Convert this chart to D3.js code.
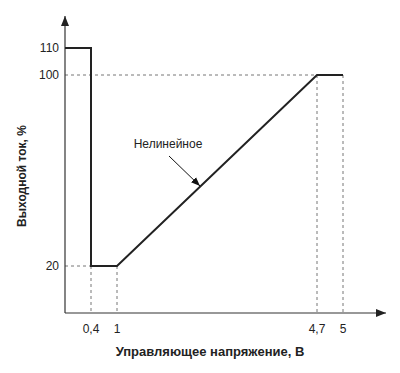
<!DOCTYPE html>
<html>
<head>
<meta charset="utf-8">
<script src="https://cdn.jsdelivr.net/npm/d3@7"></script>
<style>
  body { margin: 0; background: #fff; }
  text { font-family: "Liberation Sans", Arial, sans-serif; fill: #222; }
</style>
</head>
<body>
<svg id="chart" width="400" height="373"></svg>
<script>
// curve points (control voltage, output current)
var voltage = [0, 0.4, 0.4, 1, 4.7, 5];
var current = [110, 110, 20, 20, 100, 100];

var xTicks = [0.4, 1, 4.7, 5];
var xTickLabels = ["0,4", "1", "4,7", "5"];
var yTicks = [20, 100, 110];
var yTickLabels = ["20", "100", "110"];

// dashed guides: [x1, y1, x2, y2] in data units
var guides = [
    [0, 100, 4.7, 100],
    [0, 20, 0.4, 20],
    [0.4, 20, 0.4, 0],
    [1, 20, 1, 0],
    [4.7, 100, 4.7, 0],
    [5, 100, 5, 0]
];

var svg = d3.select("#chart");

// schematic axes, not to scale -> piecewise scales
var x = d3.scaleLinear().domain([0, 0.4, 1, 4.7, 5]).range([65, 91, 117, 317, 343]);
var y = d3.scaleLinear().domain([0, 20, 100, 110]).range([313, 266, 75, 48]);

var defs = svg.append("defs");
defs.append("marker")
    .attr("id", "axisArrow")
    .attr("viewBox", "0 0 10 10")
    .attr("refX", 10).attr("refY", 5)
    .attr("markerWidth", 10).attr("markerHeight", 10)
    .attr("markerUnits", "userSpaceOnUse")
    .attr("orient", "auto")
    .append("path").attr("d", "M0,1L10,5L0,9Z").attr("fill", "#222");
defs.append("marker")
    .attr("id", "noteArrow")
    .attr("viewBox", "0 0 10 10")
    .attr("refX", 10).attr("refY", 5)
    .attr("markerWidth", 9).attr("markerHeight", 9)
    .attr("markerUnits", "userSpaceOnUse")
    .attr("orient", "auto")
    .append("path").attr("d", "M0,1L10,5L0,9Z").attr("fill", "#111");

// guides
svg.append("g").selectAll("line")
    .data(guides)
    .enter().append("line")
    .attr("x1", function(d) { return x(d[0]); })
    .attr("y1", function(d) { return y(d[1]); })
    .attr("x2", function(d) { return x(d[2]); })
    .attr("y2", function(d) { return y(d[3]); })
    .attr("stroke", "#777")
    .attr("stroke-width", 1)
    .attr("stroke-dasharray", "3,3");

// axes
svg.append("line")
    .attr("x1", x(0)).attr("y1", y(0))
    .attr("x2", x(0)).attr("y2", 16)
    .attr("stroke", "#333").attr("stroke-width", 1.2)
    .attr("marker-end", "url(#axisArrow)");
svg.append("line")
    .attr("x1", x(0)).attr("y1", y(0))
    .attr("x2", 386).attr("y2", y(0))
    .attr("stroke", "#333").attr("stroke-width", 1.2)
    .attr("marker-end", "url(#axisArrow)");

// tick labels
svg.append("g").selectAll("text")
    .data(xTicks)
    .enter().append("text")
    .attr("x", function(d) { return x(d); })
    .attr("y", y(0) + 20)
    .attr("text-anchor", "middle")
    .attr("font-size", 12)
    .text(function(d, i) { return xTickLabels[i]; });

svg.append("g").selectAll("text")
    .data(yTicks)
    .enter().append("text")
    .attr("x", x(0) - 6)
    .attr("y", function(d) { return y(d); })
    .attr("dy", "0.35em")
    .attr("text-anchor", "end")
    .attr("font-size", 12)
    .text(function(d, i) { return yTickLabels[i]; });

// curve
var line = d3.line()
    .x(function(d, i) { return x(voltage[i]); })
    .y(function(d, i) { return y(current[i]); });

svg.append("path")
    .datum(voltage)
    .attr("d", line)
    .attr("fill", "none")
    .attr("stroke", "#222")
    .attr("stroke-width", 2);

// annotation
svg.append("text")
    .attr("x", 168).attr("y", 148)
    .attr("text-anchor", "middle")
    .attr("font-size", 12)
    .text("Нелинейное");
svg.append("line")
    .attr("x1", 169).attr("y1", 156)
    .attr("x2", 200).attr("y2", 186)
    .attr("stroke", "#111").attr("stroke-width", 1)
    .attr("marker-end", "url(#noteArrow)");

// axis titles
svg.append("text")
    .attr("x", 210).attr("y", 356)
    .attr("text-anchor", "middle")
    .attr("font-size", 13)
    .attr("font-weight", "bold")
    .text("Управляющее напряжение, В");

svg.append("text")
    .attr("transform", "translate(26,176) rotate(-90)")
    .attr("text-anchor", "middle")
    .attr("font-size", 12)
    .attr("font-weight", "bold")
    .text("Выходной ток, %");
</script>
</body>
</html>
